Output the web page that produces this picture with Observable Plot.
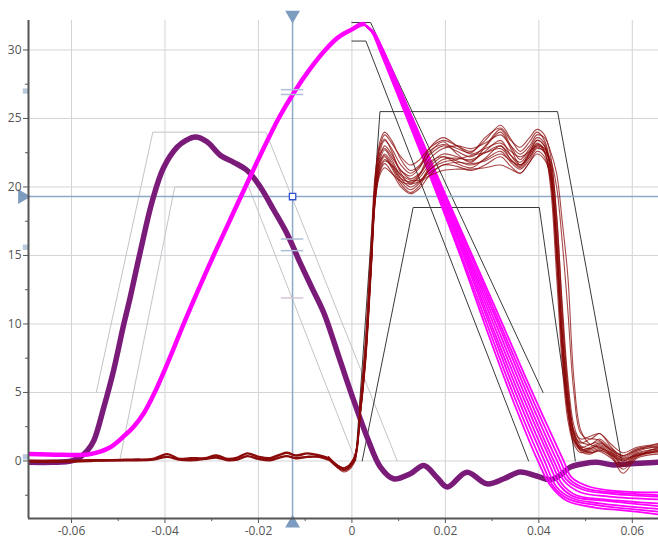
<!DOCTYPE html>
<html><head><meta charset="utf-8">
<script src="https://cdn.jsdelivr.net/npm/d3@7"></script>
<script src="https://cdn.jsdelivr.net/npm/@observablehq/plot@0.6"></script>
<style>
html,body{margin:0;padding:0;background:#fff;}
#chart{width:658px;height:542px;}
</style></head><body><div id="chart"></div>
<script>
// ---- axes ----
const xDomain = [-0.0692, 0.0656];
const yDomain = [-4.2, 32.15];
const xTicks = [-0.06, -0.04, -0.02, 0, 0.02, 0.04, 0.06];
const xMinorTicks = [-0.05, -0.03, -0.01, 0.01, 0.03, 0.05];
const yTicks = [0, 5, 10, 15, 20, 25, 30];
const yMinorTicks = [-2.5, 2.5, 7.5, 12.5, 17.5, 22.5, 27.5];

// ---- purple series (bundle) ----
const purpleX = [-0.0692,-0.064,-0.060,-0.0581,-0.0565,-0.0552,-0.0531,-0.051,-0.0488,-0.0474,-0.0452,-0.0427,-0.0403,-0.0374,-0.0355,-0.0335,-0.031,-0.0281,-0.0253,-0.0224,-0.0196,-0.0167,-0.0139,-0.011,-0.0085,-0.006,-0.0025,0.0004,0.0033,0.0061,0.0089,0.0125,0.0154,0.0182,0.0204,0.0246,0.0289,0.0325,0.036,0.0395,0.0425,0.0447,0.0467,0.0495,0.0524,0.056,0.0596,0.0625,0.0656];
const purpleY = [-0.1,-0.1,0.0,0.3,0.8,1.5,3.9,6.6,10.0,12.0,15.4,19.0,21.4,22.9,23.4,23.65,23.3,22.3,21.8,21.2,20.0,18.3,16.6,14.4,12.6,10.8,7.3,4.4,1.7,-0.45,-1.3,-0.93,-0.33,-1.2,-1.9,-0.82,-1.67,-1.3,-0.8,-1.1,-1.37,-1.0,-0.45,-0.2,-0.1,-0.3,-0.2,-0.15,-0.1];

// ---- magenta series: common rise, then a fan of falling traces ----
const magentaRiseX = [-0.0692,-0.062,-0.056,-0.0517,-0.0485,-0.0467,-0.0445,-0.0422,-0.039,-0.036,-0.033,-0.0296,-0.0262,-0.0228,-0.0192,-0.0157,-0.0124,-0.009,-0.0057,-0.003,0.0,0.0018,0.0025];
const magentaRiseY = [0.5,0.45,0.5,1.0,1.9,2.5,3.5,5.0,7.5,10.0,12.4,15.0,17.5,20.0,22.6,25.0,26.9,28.6,30.0,30.9,31.5,31.85,31.9];
const magentaFall1 = [[0.0025,31.9],[0.0043,31.3],[0.0059,30],[0.0118,25],[0.0184,19.3],[0.0234,14.8],[0.0284,10],[0.0338,5],[0.0398,0],[0.0425,-1.8],[0.046,-2.9],[0.052,-3.4],[0.058,-3.6],[0.0656,-3.9]];
const magentaFall2 = [[0.0025,31.9],[0.0043,31.3],[0.006,30],[0.012,25],[0.0186,19.3],[0.0237,14.8],[0.0289,10],[0.0344,5],[0.0405,0],[0.0432,-1.9],[0.0465,-2.8],[0.052,-3.2],[0.0656,-3.7]];
const magentaFall3 = [[0.0025,31.9],[0.0044,31.3],[0.0061,30],[0.0121,25],[0.0189,19.3],[0.0241,14.8],[0.0294,10],[0.035,5],[0.0412,0],[0.0438,-1.9],[0.047,-2.7],[0.053,-3.1],[0.0656,-3.5]];
const magentaFall4 = [[0.0025,31.9],[0.0044,31.3],[0.0062,30],[0.0123,25],[0.0191,19.3],[0.0244,14.8],[0.0298,10],[0.0356,5],[0.0419,0],[0.0445,-1.8],[0.0475,-2.6],[0.054,-2.9],[0.0656,-3.3]];
const magentaFall5 = [[0.0025,31.9],[0.0045,31.3],[0.0063,30],[0.0124,25],[0.0193,19.3],[0.0247,14.8],[0.0303,10],[0.0362,5],[0.0426,0],[0.045,-1.7],[0.048,-2.5],[0.054,-2.8],[0.0656,-3.1]];
const magentaFall6 = [[0.0025,31.9],[0.0045,31.3],[0.0064,30],[0.0126,25],[0.0195,19.3],[0.025,14.8],[0.0308,10],[0.0368,5],[0.0432,0],[0.0455,-1.5],[0.049,-2.3],[0.055,-2.6],[0.0656,-2.8]];
const magentaFall7 = [[0.0025,31.9],[0.0046,31.3],[0.0065,30],[0.0127,25],[0.0198,19.3],[0.0253,14.8],[0.0313,10],[0.0374,5],[0.0439,0],[0.046,-1.4],[0.0495,-2.1],[0.0555,-2.4],[0.0656,-2.6]];
const magentaFall8 = [[0.0025,31.9],[0.0046,31.3],[0.0066,30],[0.0129,25],[0.02,19.3],[0.0257,14.8],[0.0317,10],[0.038,5],[0.0446,0],[0.0465,-1.3],[0.05,-2.0],[0.056,-2.3],[0.0656,-2.5]];
const magentaFall9 = [[0.0025,31.9],[0.0047,31.3],[0.0067,30],[0.013,25],[0.0202,19.3],[0.026,14.8],[0.0322,10],[0.0386,5],[0.0453,0],[0.047,-1.2],[0.051,-1.9],[0.057,-2.2],[0.0656,-2.3]];

// ---- dark red series: shared baseline + many pulse traces ----
const redBaseX = [-0.0692,-0.062,-0.056,-0.052,-0.047,-0.0425,-0.0395,-0.037,-0.0345,-0.0315,-0.029,-0.0265,-0.0245,-0.0224,-0.02,-0.0175,-0.0155,-0.0139,-0.012,-0.0095,-0.007,-0.005];
const redBaseY1 = [0.0,0.0,0.05,0.05,0.1,0.15,0.5,0.15,0.2,0.2,0.4,0.15,0.25,0.55,0.3,0.2,0.45,0.6,0.4,0.55,0.4,0.2];
const redBaseY2 = [-0.05,-0.05,0.0,0.05,0.05,0.1,0.3,0.1,0.05,0.15,0.25,0.05,0.1,0.35,0.15,0.05,0.25,0.35,0.2,0.3,0.3,0.1];
const redX = [-0.005,-0.0017,0.0004,0.0018,0.0029,0.0041,0.005,0.006,0.007,0.0085,0.0105,0.0125,0.0145,0.0165,0.0195,0.0225,0.0255,0.0285,0.0318,0.034,0.036,0.038,0.0396,0.0412,0.0425,0.0438,0.045,0.0462,0.0475,0.049,0.051,0.053,0.0555,0.058,0.061,0.0656];
const redY1 = [0.2,-0.5,0.2,4.5,9,16,21,23,23.8,23.2,22.2,21.6,22.0,22.8,23.4,23.0,22.6,23.4,24.5,23.5,22.6,23.3,24.0,23.4,21.5,16,9,4.5,2.2,1.6,1.8,2.0,1.2,0.6,1.0,1.2];
const redY2 = [0.3,-0.6,0.0,3.8,7.8,14.5,20,22.6,23.4,22.8,21.6,21.0,21.5,22.3,23.0,22.6,22.2,23.0,24.2,23.0,22.0,22.8,23.6,23.2,21.0,15,8,3.5,1.5,1.0,1.2,1.4,0.7,0.0,0.6,0.9];
const redY3 = [0.1,-0.7,-0.1,3.5,7.5,14,19.5,22.2,23.0,22.4,21.2,20.6,21.0,22.0,22.8,23.0,22.8,23.2,23.8,23.0,22.4,23.0,23.8,23.6,22.6,21.0,17.5,13.5,6.0,2.2,1.2,1.0,0.4,-0.6,0.3,1.0];
const redY4 = [0.2,-0.5,0.1,3.6,7.6,14.2,19.6,22.0,22.7,22.0,20.8,20.3,20.7,21.6,22.4,22.2,21.9,22.6,23.4,22.3,21.6,22.4,23.2,22.6,20.0,13.5,7.0,3.0,1.2,0.6,0.9,1.1,0.5,0.1,0.5,0.6];
const redY5 = [0.3,-0.8,-0.2,3.3,7.0,13.6,19.0,21.7,22.4,21.8,20.6,20.0,20.4,21.2,22.0,22.1,22.0,22.5,23.0,22.3,21.8,22.6,23.4,23.0,21.3,16.0,9.0,4.2,1.8,0.9,0.7,0.9,0.6,0.2,0.4,0.8];
const redY6 = [0.1,-0.6,0.0,3.6,7.4,14.0,19.3,21.4,22.0,21.5,20.4,19.8,20.3,21.4,22.2,21.9,21.6,22.0,22.6,21.8,21.3,22.0,22.8,22.6,21.8,18.0,11,5.5,2.0,0.7,0.5,0.8,0.3,-0.9,0.2,0.5];
const redY7 = [0.2,-0.5,0.2,3.9,8.0,14.6,19.4,21.1,21.7,21.1,20.0,19.5,19.9,20.8,21.6,21.5,21.2,21.6,22.2,21.5,21.0,21.8,22.6,22.2,20.4,14.5,8.0,3.6,1.4,0.8,1.0,1.3,0.8,0.4,0.9,1.1];
const redY8 = [0.2,-0.6,0.1,3.7,7.7,14.1,19.0,20.9,21.4,21.0,20.4,20.2,20.4,20.8,21.2,21.3,21.3,21.4,21.6,21.3,21.0,21.8,22.4,22.0,20.8,15.5,8.5,4.0,1.6,0.8,0.6,0.8,0.4,0.0,0.4,0.7];
const redY9 = [0.3,-0.5,0.2,4.0,8.2,15.0,20.2,22.4,22.8,22.2,21.2,20.8,21.4,22.8,23.6,23.0,22.4,22.8,23.2,22.6,22.2,22.6,23.0,22.8,22.0,20.0,16.0,11.0,5.0,2.0,1.6,2.0,1.0,0.3,0.8,1.0];
const redY10 = [0.1,-0.7,-0.1,3.4,7.2,13.8,19.2,21.6,22.2,21.4,20.2,19.6,20.1,21.2,21.8,22.0,22.3,22.5,22.8,22.0,21.4,22.2,23.0,22.6,20.8,15.8,9.5,4.6,2.0,1.0,0.6,0.7,0.2,-0.4,0.3,0.7];
const redY11 = [0.2,-0.6,0.1,3.9,8.1,14.8,20.4,22.9,23.5,22.6,21.0,20.2,20.9,22.4,23.3,22.4,21.8,22.9,24.0,22.8,21.6,22.5,23.4,23.0,21.4,16.5,9.5,4.8,2.0,1.3,1.6,1.5,0.8,0.2,0.7,1.1];
const redY12 = [0.2,-0.7,0.0,3.5,7.4,14.2,19.8,21.9,22.3,21.6,20.6,20.4,20.9,21.8,22.2,21.7,21.4,22.1,23.0,22.0,21.5,22.4,23.1,22.8,21.6,17.2,10.5,5.2,2.2,1.1,0.9,1.2,0.6,-0.2,0.5,0.9];
const redY13 = [0.3,-0.5,0.2,4.2,8.5,15.3,20.6,23.3,24.0,23.4,22.0,21.2,21.6,22.6,23.1,22.8,22.5,23.6,24.3,23.4,22.9,23.6,24.2,23.8,22.3,17.8,11.5,6.0,2.6,1.4,1.2,1.6,0.9,0.4,0.8,1.3];
const redY14 = [0.1,-0.6,-0.1,3.4,7.3,13.9,19.1,21.2,21.9,21.6,20.9,20.5,20.5,21.0,21.6,21.8,21.7,21.9,22.4,21.9,21.6,22.2,22.9,22.5,20.6,15.0,8.2,3.8,1.6,0.9,0.8,1.0,0.5,-0.3,0.4,0.8];

// ---- limit envelopes ----
const envPurpleOuter = [[-0.0547,5],[-0.0426,24],[-0.0184,24],[0.0097,0]];
const envPurpleInner = [[-0.0497,0],[-0.0379,20],[-0.0221,20],[0.0008,0]];
const envMagentaUpper = [[0.0,32],[0.004,32],[0.0409,5]];
const envMagentaLower = [[0.0,30.65],[0.003,30.65],[0.0378,0]];
const envRedOuter = [[0.0008,0],[0.006,25.5],[0.044,25.5],[0.0577,0]];
const envRedInner = [[0.0022,0],[0.0131,18.5],[0.0401,18.5],[0.0478,0]];

// ---- cursor decorations ----
const cursorX = -0.0127;
const cursorY = 19.3;
const cursorMarksBlue = [27.1, 26.75, 16.2, 15.35];
const cursorMarksPink = [11.9];
const leftMarks = [27.0, 15.6, 0.3];

// ---- build tables ----
const fromXY = (xs, ys, id) => xs.map((x, i) => ({id, x, y: ys[i]}));
const fromPairs = (pairs, id) => pairs.map(([x, y]) => ({id, x, y}));

const purple = fromXY(purpleX, purpleY, "p");
const magentaRise = fromXY(magentaRiseX, magentaRiseY, "mr");
const magentaFalls = [magentaFall1, magentaFall2, magentaFall3, magentaFall4, magentaFall5, magentaFall6, magentaFall7, magentaFall8, magentaFall9]
  .flatMap((p, i) => fromPairs(p, "mf" + i));
const redBase = [...fromXY(redBaseX, redBaseY1, "b1"), ...fromXY(redBaseX, redBaseY2, "b2")];
const redLines = [redY1, redY2, redY3, redY4, redY5, redY6, redY7, redY8, redY9, redY10, redY11, redY12, redY13, redY14]
  .flatMap((ys, i) => fromXY(redX, ys, "r" + i));
const envLight = [...fromPairs(envPurpleOuter, "po"), ...fromPairs(envPurpleInner, "pi")];
const envDark = [...fromPairs(envMagentaUpper, "mu"), ...fromPairs(envMagentaLower, "ml"),
                 ...fromPairs(envRedOuter, "ro"), ...fromPairs(envRedInner, "ri")];

const fmt = d => String(d);
const cursorColor = "#8ea8c6";

const chart = Plot.plot({
  width: 658, height: 542,
  marginLeft: 28, marginRight: 0, marginTop: 20, marginBottom: 24,
  style: {fontFamily: "'Open Sans', 'DejaVu Sans', sans-serif", fontSize: "12px", color: "#555", background: "#fff"},
  x: {domain: xDomain, label: null},
  y: {domain: yDomain, label: null},
  marks: [
    Plot.gridX(xTicks, {stroke: "#d4d4d8", strokeOpacity: 1}),
    Plot.gridY(yTicks, {stroke: "#d4d4d8", strokeOpacity: 1}),
    Plot.line(envLight, {x: "x", y: "y", z: "id", stroke: "#c4c4c8", strokeWidth: 1, clip: true}),
    Plot.line(envDark, {x: "x", y: "y", z: "id", stroke: "#3a3a3a", strokeWidth: 1, clip: true}),
    // cursor lines
    Plot.ruleX([cursorX], {y1: 32.55, y2: -4.55, stroke: cursorColor, strokeWidth: 1.5}),
    Plot.ruleY([cursorY], {x1: -0.0705, x2: xDomain[1], stroke: cursorColor, strokeWidth: 1.5}),
    // purple
    Plot.line(purple, {x: "x", y: "y", z: "id", stroke: "#7a1b7a", strokeWidth: 5.5, curve: "catmull-rom", clip: true}),
    // magenta
    Plot.line(magentaRise, {x: "x", y: "y", z: "id", stroke: "#ff00ff", strokeWidth: 4.5, curve: "catmull-rom", clip: true}),
    Plot.line(magentaFalls, {x: "x", y: "y", z: "id", stroke: "#ff00ff", strokeWidth: 1.8, curve: "catmull-rom", clip: true}),
    // dark red
    Plot.line(redBase, {x: "x", y: "y", z: "id", stroke: "#8b0a0a", strokeWidth: 2.4, curve: "catmull-rom", clip: true}),
    Plot.line(redLines, {x: "x", y: "y", z: "id", stroke: "#8b0a0a", strokeWidth: 1.1, strokeOpacity: 0.75, curve: "catmull-rom", clip: true}),
    // cursor marks
    Plot.ruleY(cursorMarksBlue, {x1: cursorX - 0.0024, x2: cursorX + 0.0024, stroke: "#aebfd6", strokeWidth: 1.5}),
    Plot.ruleY(cursorMarksPink, {x1: cursorX - 0.0024, x2: cursorX + 0.0024, stroke: "#d8c6d4", strokeWidth: 1.5}),
    Plot.dot([{x: cursorX, y: cursorY}], {x: "x", y: "y", symbol: "square", r: 3.6, stroke: "#3050d0", fill: "white", strokeWidth: 1.3}),
    Plot.dot([{x: cursorX, y: 32.55}], {x: "x", y: "y", symbol: "triangle", r: 5.5, fill: "#7d9cbf", rotate: 180}),
    Plot.dot([{x: cursorX, y: -4.55}], {x: "x", y: "y", symbol: "triangle", r: 5.5, fill: "#7d9cbf"}),
    Plot.dot([{x: -0.0705, y: cursorY}], {x: "x", y: "y", symbol: "triangle", r: 5.5, fill: "#7d9cbf", rotate: 90}),
    Plot.dot(leftMarks, {x: () => -0.06985, y: d => d, symbol: "square", r: 3, fill: "#b9c9dd"}),
    // axes
    Plot.ruleX([xDomain[0]], {stroke: "#555", strokeWidth: 2}),
    Plot.ruleY([yDomain[0]], {stroke: "#555", strokeWidth: 2}),
    Plot.axisX(xTicks, {tickSize: 5, tickPadding: 3, tickFormat: fmt, label: null}),
    Plot.axisX(xMinorTicks, {tickSize: 3, tickFormat: () => "", label: null}),
    Plot.axisY(yTicks, {tickSize: 5, tickPadding: 2, tickFormat: fmt, label: null}),
    Plot.axisY(yMinorTicks, {tickSize: 3, tickFormat: () => "", label: null})
  ]
});
document.getElementById("chart").appendChild(chart);
</script>
</body></html>
